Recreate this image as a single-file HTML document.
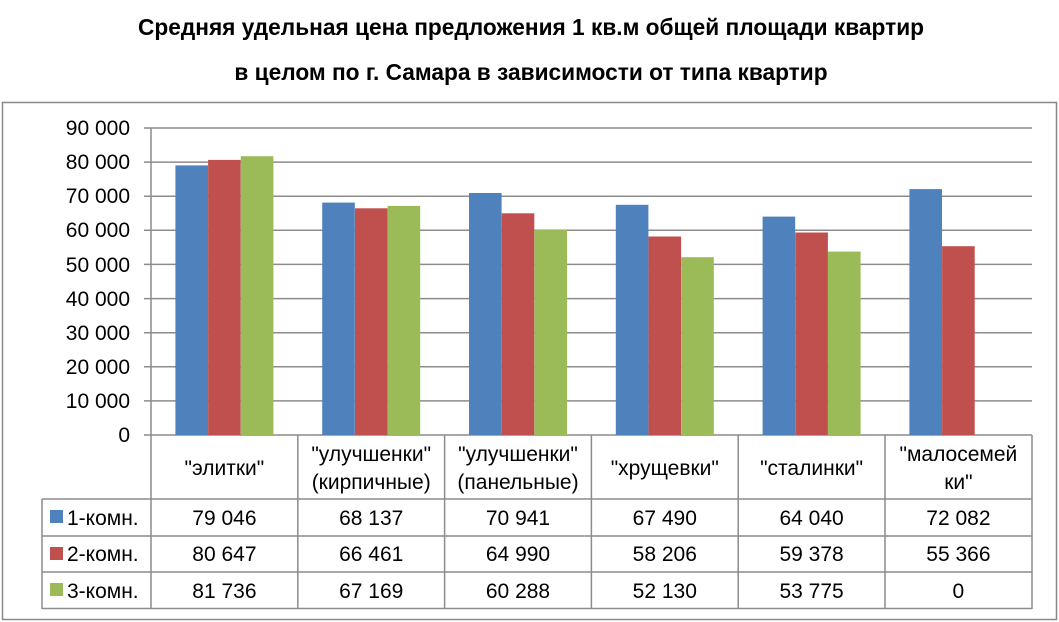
<!DOCTYPE html>
<html><head><meta charset="utf-8"><style>
body{margin:0;background:#fff;}
svg{display:block;font-family:"Liberation Sans","DejaVu Sans",sans-serif;}
</style></head><body>
<svg width="1059" height="622" xmlns="http://www.w3.org/2000/svg">
<rect width="1059" height="622" fill="#fff"/>
<text x="531" y="35" text-anchor="middle" font-size="22.7" font-weight="bold" fill="#000">Средняя удельная цена предложения 1 кв.м общей площади квартир</text>
<text x="531" y="80" text-anchor="middle" font-size="22.7" font-weight="bold" fill="#000">в целом по г. Самара в зависимости от типа квартир</text>
<rect x="2.5" y="102.5" width="1054" height="517" fill="none" stroke="#888" stroke-width="1.5"/>
<g stroke="#8c8c8c" stroke-width="1.5">
<line x1="144" y1="128" x2="1032" y2="128"/>
<line x1="144" y1="162.1" x2="1032" y2="162.1"/>
<line x1="144" y1="196.2" x2="1032" y2="196.2"/>
<line x1="144" y1="230.3" x2="1032" y2="230.3"/>
<line x1="144" y1="264.4" x2="1032" y2="264.4"/>
<line x1="144" y1="298.6" x2="1032" y2="298.6"/>
<line x1="144" y1="332.7" x2="1032" y2="332.7"/>
<line x1="144" y1="366.8" x2="1032" y2="366.8"/>
<line x1="144" y1="400.9" x2="1032" y2="400.9"/>
<line x1="144" y1="435" x2="1032" y2="435"/>
<line x1="151" y1="128" x2="151" y2="435"/>
</g>
<g font-size="21" fill="#000" text-anchor="end">
<text x="130" y="135">90 000</text>
<text x="130" y="169">80 000</text>
<text x="130" y="203">70 000</text>
<text x="130" y="237">60 000</text>
<text x="130" y="272">50 000</text>
<text x="130" y="306">40 000</text>
<text x="130" y="340">30 000</text>
<text x="130" y="374">20 000</text>
<text x="130" y="408">10 000</text>
<text x="130" y="442">0</text>
</g>
<g>
<rect x="175.4" y="165.4" width="32.6" height="269.6" fill="#4f81bd"/>
<rect x="208.1" y="159.9" width="32.6" height="275.1" fill="#c0504d"/>
<rect x="240.8" y="156.2" width="32.6" height="278.8" fill="#9bbb59"/>
<rect x="322.2" y="202.6" width="32.6" height="232.4" fill="#4f81bd"/>
<rect x="354.9" y="208.3" width="32.6" height="226.7" fill="#c0504d"/>
<rect x="387.6" y="205.9" width="32.6" height="229.1" fill="#9bbb59"/>
<rect x="469" y="193" width="32.6" height="242" fill="#4f81bd"/>
<rect x="501.7" y="213.3" width="32.6" height="221.7" fill="#c0504d"/>
<rect x="534.4" y="229.4" width="32.6" height="205.6" fill="#9bbb59"/>
<rect x="615.8" y="204.8" width="32.6" height="230.2" fill="#4f81bd"/>
<rect x="648.5" y="236.5" width="32.6" height="198.5" fill="#c0504d"/>
<rect x="681.2" y="257.2" width="32.6" height="177.8" fill="#9bbb59"/>
<rect x="762.6" y="216.6" width="32.6" height="218.4" fill="#4f81bd"/>
<rect x="795.3" y="232.5" width="32.6" height="202.5" fill="#c0504d"/>
<rect x="828" y="251.6" width="32.6" height="183.4" fill="#9bbb59"/>
<rect x="909.4" y="189.1" width="32.6" height="245.9" fill="#4f81bd"/>
<rect x="942.1" y="246.2" width="32.6" height="188.8" fill="#c0504d"/>
</g>
<g stroke="#8c8c8c" stroke-width="1.5" fill="none">
<line x1="151" y1="435" x2="151" y2="609"/>
<line x1="297.8" y1="435" x2="297.8" y2="609"/>
<line x1="444.6" y1="435" x2="444.6" y2="609"/>
<line x1="591.4" y1="435" x2="591.4" y2="609"/>
<line x1="738.2" y1="435" x2="738.2" y2="609"/>
<line x1="885" y1="435" x2="885" y2="609"/>
<line x1="1032" y1="435" x2="1032" y2="609"/>
<line x1="42" y1="499" x2="1032" y2="499"/>
<line x1="42" y1="536" x2="1032" y2="536"/>
<line x1="42" y1="572" x2="1032" y2="572"/>
<line x1="42" y1="608.5" x2="1032" y2="608.5"/>
<line x1="42" y1="499" x2="42" y2="609"/>
</g>
<g font-size="21" fill="#000" text-anchor="middle">
<text x="224.4" y="475">"элитки"</text>
<text x="371.2" y="461">"улучшенки"</text>
<text x="371.2" y="489">(кирпичные)</text>
<text x="518" y="461">"улучшенки"</text>
<text x="518" y="489">(панельные)</text>
<text x="664.8" y="475">"хрущевки"</text>
<text x="811.6" y="475">"сталинки"</text>
<text x="958.4" y="461">"малосемей</text>
<text x="958.4" y="489">ки"</text>
<text x="224.4" y="525">79 046</text><text x="371.2" y="525">68 137</text><text x="518" y="525">70 941</text><text x="664.8" y="525">67 490</text><text x="811.6" y="525">64 040</text><text x="958.4" y="525">72 082</text>
<text x="224.4" y="561">80 647</text><text x="371.2" y="561">66 461</text><text x="518" y="561">64 990</text><text x="664.8" y="561">58 206</text><text x="811.6" y="561">59 378</text><text x="958.4" y="561">55 366</text>
<text x="224.4" y="598">81 736</text><text x="371.2" y="598">67 169</text><text x="518" y="598">60 288</text><text x="664.8" y="598">52 130</text><text x="811.6" y="598">53 775</text><text x="958.4" y="598">0</text>
</g>
<rect x="50" y="510" width="13" height="13" fill="#4f81bd"/>
<rect x="50" y="547" width="13" height="13" fill="#c0504d"/>
<rect x="50" y="583" width="13" height="13" fill="#9bbb59"/>
<g font-size="21" fill="#000">
<text x="67" y="525">1-комн.</text>
<text x="67" y="561">2-комн.</text>
<text x="67" y="598">3-комн.</text>
</g>
</svg>
</body></html>
